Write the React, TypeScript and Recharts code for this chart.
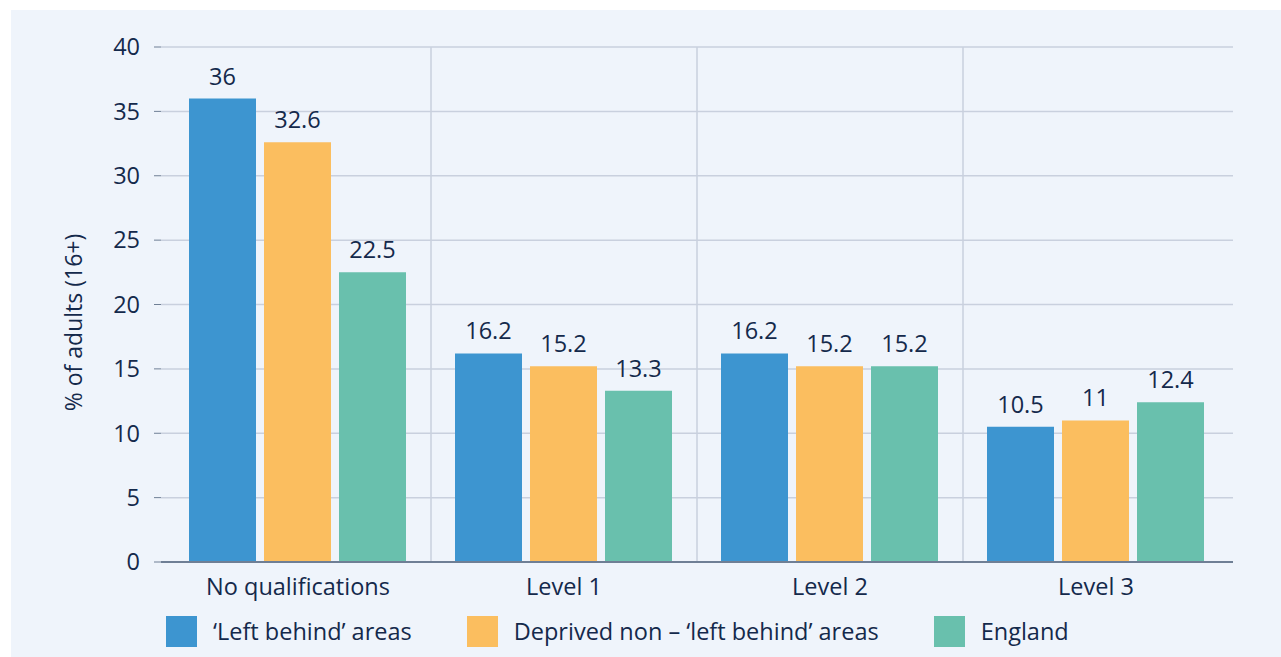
import React from "react";
import {
  BarChart,
  Bar,
  XAxis,
  YAxis,
  CartesianGrid,
  LabelList,
} from "recharts";

const categories = ["No qualifications", "Level 1", "Level 2", "Level 3"];
const leftBehind = [36, 16.2, 16.2, 10.5];
const deprived = [32.6, 15.2, 15.2, 11];
const england = [22.5, 13.3, 15.2, 12.4];
const yTicks = [0, 5, 10, 15, 20, 25, 30, 35, 40];

const series = [
  { key: "leftBehind", name: "\u2018Left behind\u2019 areas", color: "#3d95d0" },
  { key: "deprived", name: "Deprived non \u2013 \u2018left behind\u2019 areas", color: "#fbbe5f" },
  { key: "england", name: "England", color: "#69c0ad" },
];

const data = categories.map((category, i) => ({
  category,
  leftBehind: leftBehind[i],
  deprived: deprived[i],
  england: england[i],
}));

const TEXT = "#14294b";
const GRID = "#c9d0de";
const FONT = "'Open Sans', sans-serif";
const FS = 23.5;
const xPad = 4;

// vertical grid lines sit on category boundaries, not centres
const boundaryLines = ({ offset }: any) => {
  const n = categories.length;
  const step = (offset.width - 2 * xPad) / n;
  return categories.slice(1).map((_, i) => offset.left + xPad + (i + 1) * step);
};

function YLabel({ viewBox }: any) {
  const cx = viewBox.x + 73;
  const cy = viewBox.y + viewBox.height / 2 + 18;
  return (
    <text
      x={cx}
      y={cy}
      transform={`rotate(-90 ${cx} ${cy})`}
      textAnchor="middle"
      dominantBaseline="central"
      fill={TEXT}
      fontSize={23}
      fontFamily={FONT}
    >
      % of adults (16+)
    </text>
  );
}

export default function App() {
  return (
    <div
      style={{
        position: "absolute",
        left: 0,
        top: 0,
        width: 1281,
        height: 657,
        background: "#ffffff",
        overflow: "hidden",
        fontFamily: FONT,
      }}
    >
      <div
        style={{
          position: "absolute",
          left: 11,
          top: 10,
          right: 0,
          bottom: 0,
          background: "#eff4fb",
        }}
      />
      <div style={{ position: "absolute", left: 0, top: 0 }}>
        <BarChart
          width={1281}
          height={657}
          data={data}
          margin={{ top: 47, right: 48, bottom: 65, left: 0 }}
          barCategoryGap={24}
          barGap={8}
        >
          <CartesianGrid
            stroke={GRID}
            strokeWidth={1.5}
            verticalCoordinatesGenerator={boundaryLines}
          />
          <XAxis
            dataKey="category"
            height={30}
            padding={{ left: xPad, right: xPad }}
            axisLine={{ stroke: "#6f7f95", strokeWidth: 2 }}
            tickLine={false}
            tickMargin={10}
            tick={{ fill: TEXT, fontSize: FS, fontFamily: FONT }}
            interval={0}
          />
          <YAxis
            width={161}
            domain={[0, 40]}
            ticks={yTicks}
            axisLine={false}
            tickLine={{ stroke: "#6f7f95" }}
            tickSize={7}
            tickMargin={14}
            tick={{ fill: TEXT, fontSize: FS, fontFamily: FONT }}
            label={<YLabel />}
          />
          {series.map((s) => (
            <Bar
              key={s.key}
              dataKey={s.key}
              name={s.name}
              fill={s.color}
              isAnimationActive={false}
            >
              <LabelList
                dataKey={s.key}
                position="top"
                offset={14}
                fill={TEXT}
                fontSize={FS}
                fontFamily={FONT}
              />
            </Bar>
          ))}
        </BarChart>
      </div>
      <div
        style={{
          position: "absolute",
          left: 166,
          top: 615,
          display: "flex",
          alignItems: "center",
          gap: 55,
          color: TEXT,
          fontSize: FS,
        }}
      >
        {series.map((s) => (
          <div key={s.key} style={{ display: "flex", alignItems: "center" }}>
            <div style={{ width: 31, height: 31, background: s.color, marginRight: 16 }} />
            <span style={{ whiteSpace: "nowrap" }}>{s.name}</span>
          </div>
        ))}
      </div>
    </div>
  );
}
